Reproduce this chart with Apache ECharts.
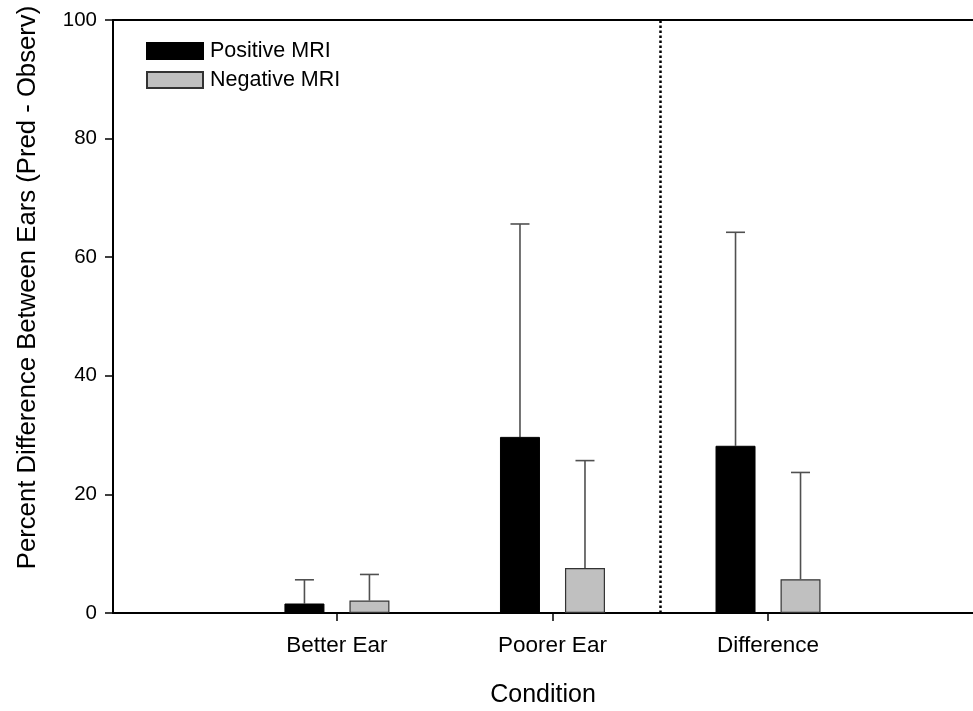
<!DOCTYPE html>
<html>
<head>
<meta charset="utf-8">
<script src="https://cdn.jsdelivr.net/npm/echarts@6/dist/echarts.min.js"></script>
<style>
  html, body { margin: 0; padding: 0; background: #fff; }
  #chart { width: 973px; height: 711px; }
</style>
</head>
<body>
<div id="chart"></div>
<script>
// Conditions (placed at x = 1, 2, 3)
const categories = ['Better Ear', 'Poorer Ear', 'Difference'];
const positions = [1, 2, 3];

// Mean percent difference (Pred - Observ) and standard deviation
const positiveMean = [1.6, 29.7, 28.2];
const positiveSD   = [4.0, 35.9, 36.0];
const negativeMean = [2.1, 7.6, 5.7];
const negativeSD   = [4.4, 18.1, 18.0];

// Divider between the per-ear conditions and the difference
const dividerAt = 2.5;

const yTicks = [0, 20, 40, 60, 80, 100];

const SANS = 'Liberation Sans, Arial, Helvetica, sans-serif';
const BAR_W = 40;
const OFFSET = 32.5;
const X_MIN = -0.039, X_MAX = 3.951;

const chart = echarts.init(document.getElementById('chart'));

function barData(means) {
  return positions.map((p, i) => [p, means[i]]);
}
function errData(means, sds) {
  return positions.map((p, i) => [p, means[i], means[i] + sds[i]]);
}
function errorRenderer(dx) {
  return function (params, api) {
    const base = api.coord([api.value(0), api.value(1)]);
    const top = api.coord([api.value(0), api.value(2)]);
    const x = base[0] + dx;
    const style = { stroke: '#505050', lineWidth: 1.6 };
    return {
      type: 'group',
      children: [
        { type: 'line', shape: { x1: x, y1: base[1], x2: x, y2: top[1] }, style },
        { type: 'line', shape: { x1: x - 9.5, y1: top[1], x2: x + 9.5, y2: top[1] }, style }
      ]
    };
  };
}

const option = {
  animation: false,
  backgroundColor: '#fff',
  grid: { left: 113, right: 0, top: 20, bottom: 98, containLabel: false, outerBoundsMode: 'none' },
  legend: {
    left: 141, top: 35, orient: 'vertical', icon: 'rect',
    itemWidth: 56, itemHeight: 16, itemGap: 7,
    textStyle: { fontFamily: SANS, fontSize: 21.5, lineHeight: 22, color: '#000', padding: [0, 0, 0, 2] },
    data: ['Positive MRI', 'Negative MRI']
  },
  xAxis: [{
    type: 'value',
    min: X_MIN, max: X_MAX,
    name: 'Condition', nameLocation: 'middle', nameGap: 70, nameMoveOverlap: false,
    nameTextStyle: { fontFamily: SANS, fontSize: 25, color: '#000' },
    splitLine: { show: false },
    axisLine: { lineStyle: { color: '#000', width: 2 } },
    axisTick: { show: true, length: 8, customValues: positions, lineStyle: { color: '#000', width: 1.5 } },
    axisLabel: {
      customValues: positions, margin: 21,
      fontFamily: SANS, fontSize: 22.5, color: '#000',
      formatter: v => categories[Math.round(v) - 1] || ''
    }
  }, {
    type: 'value', position: 'top',
    min: X_MIN, max: X_MAX,
    splitLine: { show: false },
    axisLine: { onZero: false, lineStyle: { color: '#000', width: 2 } },
    axisTick: { show: false }, axisLabel: { show: false }
  }],
  yAxis: {
    type: 'value', min: 0, max: 100, interval: 20,
    name: 'Percent Difference Between Ears (Pred - Observ)',
    nameLocation: 'middle', nameGap: 72, nameMoveOverlap: false,
    nameTextStyle: { fontFamily: SANS, fontSize: 25.7, color: '#000', padding: [0, 0, 0, 58] },
    splitLine: { show: false },
    axisLine: { show: true, onZero: false, lineStyle: { color: '#000', width: 2 } },
    axisTick: { show: true, length: 8, lineStyle: { color: '#000', width: 1.5 } },
    axisLabel: {
      margin: 16, fontFamily: SANS, fontSize: 20.5, color: '#000',
      formatter: v => (yTicks.indexOf(v) >= 0 ? String(v) : '')
    }
  },
  series: [
    {
      name: 'Positive MRI', type: 'bar', xAxisIndex: 0,
      barWidth: BAR_W, barGap: '62.5%',
      itemStyle: { color: '#000', borderColor: '#000', borderWidth: 1 },
      data: barData(positiveMean)
    },
    {
      name: 'Negative MRI', type: 'bar', xAxisIndex: 0,
      barWidth: BAR_W, barGap: '62.5%',
      itemStyle: { color: '#c0c0c0', borderColor: '#333', borderWidth: 1.2 },
      data: barData(negativeMean)
    },
    {
      type: 'custom', xAxisIndex: 0, z: 1,
      renderItem: errorRenderer(-OFFSET),
      data: errData(positiveMean, positiveSD),
      markLine: {
        silent: true, symbol: 'none', label: { show: false },
        lineStyle: { color: '#000', type: [2.5, 2.5], width: 2.5 },
        data: [[{ coord: [dividerAt, 0] }, { coord: [dividerAt, 100] }]]
      }
    },
    {
      type: 'custom', xAxisIndex: 0, z: 1,
      renderItem: errorRenderer(OFFSET),
      data: errData(negativeMean, negativeSD)
    }
  ]
};

chart.setOption(option);
</script>
</body>
</html>
